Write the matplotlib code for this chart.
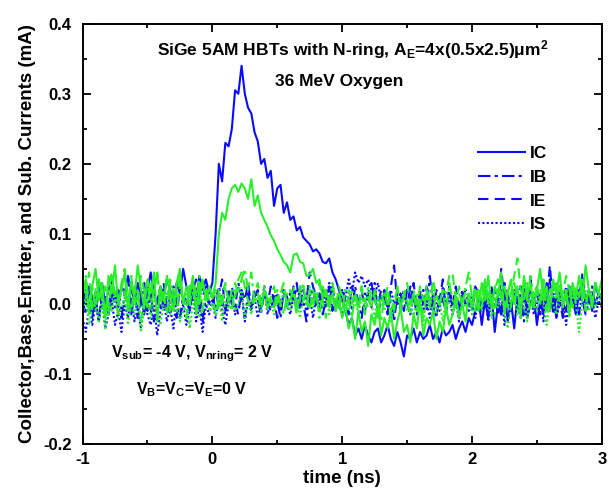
import numpy as np
import matplotlib
matplotlib.use("Agg")
import matplotlib.pyplot as plt

plt.rcParams['font.family'] = ['Liberation Sans', 'DejaVu Sans']
plt.rcParams['font.weight'] = 'bold'
plt.rcParams['axes.unicode_minus'] = False
plt.rcParams['mathtext.fontset'] = 'custom'
plt.rcParams['mathtext.rm'] = 'Liberation Sans:bold'
plt.rcParams['mathtext.bf'] = 'Liberation Sans:bold'
plt.rcParams['mathtext.it'] = 'Liberation Sans:bold'
plt.rcParams['mathtext.default'] = 'bf'

# sample times (ns), 0.025 ns step
time_ns = np.linspace(-1.0, 3.0, 161)

# currents, in uA (converted to mA below)
ic_blue = [20, 5, 25, 10, -10, 15, 30, 0, 20, 35, 10, -5, 25, 15, 40, 20, 5, 30, 10, -15,
           20, 45, 15, 0, 25, 10, 35, 20, -5, 30, 15, 50, 25, 10, 30, 5, 40, 20, 35, 15,
           30, 100, 200, 175, 230, 225, 250, 305, 300, 340, 300, 280, 272, 245, 232, 200, 207, 180, 190, 140,
           165, 170, 130, 145, 120, 125, 105, 110, 95, 90, 85, 75, 78, 72, 60, 58, 65, 45, 35, 20,
           5, -10, -30, -20, -45, -35, -50, -30, -45, -55, -40, -35, -55, -45, -30, -50, -60, -40, -55, -75,
           -45, -50, -35, -55, -40, -50, -45, -30, -50, -40, -55, -35, -45, -40, -30, -50, -35, -25, -40, -20,
           -30, -10, 10, -30, 5, -20, 15, -40, 0, -15, 20, -25, 5, -35, 10, -10, 25, -20, 0, 15,
           -30, 5, -15, 30, -5, 10, -20, 20, 0, -10, 25, 5, -15, 15, 35, 0, 20, -10, 30, 10,
           15]
ib_blue = [5, -15, 20, -5, 10, -25, 15, 0, -10, 25, -5, 10, -20, 15, 5, -15, 20, -10, 0, 30,
           -10, 15, -25, 5, 20, -5, 10, -15, 25, 0, -20, 10, 5, -10, 20, -5, 15, -25, 10, 0,
           15, -10, 25, 5, -15, 20, 0, -5, 30, 10, -20, 15, -5, 20, 5, -15, 25, 0, -10, 15,
           5, -20, 20, 10, -5, 25, -10, 15, 0, -25, 10, 20, -5, 15, -15, 5, 25, -10, 10, 0,
           -15, 20, 5, -10, 25, 0, -20, 15, 10, -5, 30, -15, 5, 20, -10, 10, -25, 15, 0, 20,
           -5, 25, 10, -15, 5, 20, -10, 40, 0, -20, 15, 5, -10, 25, -5, 10, -15, 20, 0, 15,
           -10, 20, 5, -20, 15, 0, 25, -5, 10, -15, 30, 5, -10, 20, 0, 15, -25, 10, 5, -5,
           20, -10, 15, 0, 35, -15, 10, 5, -20, 25, 0, 15, -10, 20, 5, -15, 10, 25, -5, 15,
           5]
ie_blue = [-10, 20, 5, -20, 15, 30, -5, 10, -15, 20, 0, 25, -10, 5, 35, -5, 15, -20, 10, 25,
           0, -15, 20, 10, -5, 30, -10, 15, 5, -20, 25, 0, 10, -10, 20, 35, -5, 10, 25, 0,
           -5, 20, 10, 35, -10, 15, 25, 0, -15, 20, 5, 30, -5, 10, 20, -10, 15, 0, 25, 5,
           -20, 10, 20, -5, 15, 0, 30, -10, 20, 5, 45, 25, 10, -5, 20, 15, 0, 30, -10, 10,
           20, 5, -15, 25, 10, 0, 20, -10, 15, 30, 5, -5, 20, 10, -15, 25, 55, 0, 15, -10,
           20, 5, 30, -5, 15, 0, 25, 10, -15, 20, 5, 35, -10, 15, 0, 25, -5, 10, 20, 0,
           -10, 25, 15, 0, 30, -5, 10, 20, -15, 50, 5, 15, -10, 20, 0, 25, 10, -5, 35, 10,
           0, -15, 20, 5, 55, -5, 15, 10, -10, 25, 0, 20, 5, -15, 45, 10, -5, 20, 0, 15,
           5]
is_blue = [-20, -40, -5, -30, 0, -25, 10, -35, -15, 5, -30, -10, -40, 0, -20, 10, -25, -5, -35, 5,
           -15, -30, 0, -45, -10, 5, -25, -5, -35, 10, -20, 0, -30, -10, 15, -25, -5, -40, 0, -15,
           5, -20, 10, -10, -30, 0, 15, -15, -5, 20, -25, 5, -10, 10, -20, 0, 25, -15, 5, -5,
           15, -10, 20, 0, -15, 10, -5, 25, 5, -10, 15, -20, 10, 0, 20, -5, 30, 10, 5, -5,
           20, 10, 35, 15, 45, 30, 40, 25, 35, 20, 10, 30, 5, 15, -5, 20, 0, 10, -10, 15,
           0, -15, 10, -5, 20, -10, 5, -20, 15, 0, -10, 25, -5, 10, -15, 5, -25, 15, 0, -10,
           10, -20, 5, -5, 15, -25, 0, 10, -15, 20, -30, 5, -10, 15, 0, -20, 10, -5, 20, -15,
           0, 15, -25, 5, -10, 20, -20, 0, 10, -30, 15, -5, 5, -15, 20, -10, 0, 10, -20, 5,
           -5]

ic_green = [10, 35, -15, 25, 50, 5, 30, -20, 40, 15, 55, 0, 20, 45, -10, 30, 10, 55, 20, -5,
            35, 15, 45, -25, 25, 5, 40, 15, -10, 30, 50, 0, 25, 10, 40, -15, 20, 35, 5, 25,
            10, 30, 100, 130, 120, 150, 165, 170, 160, 172, 165, 150, 178, 140, 155, 130, 120, 110, 98, 90,
            78, 70, 60, 55, 45, 70, 72, 60, 58, 40, 42, 50, 30, 35, 10, 20, 0, 15, -10, 5,
            -20, -5, -35, -20, -50, -10, -40, -25, -60, -15, -30, 0, -45, -20, -35, -10, -50, -25, -5, -40,
            -30, -55, -15, -35, 5, -45, -20, -30, -10, -50, -25, -40, -5, -30, -15, 10, -20, 0, -25, 15,
            -5, 20, -10, 30, 5, 40, -5, 25, 10, 45, -15, 15, 35, 0, 25, -20, 40, 10, 30, -5,
            20, 50, 5, 25, -10, 35, 15, 45, 0, 20, -15, 30, 10, 40, 5, 55, 20, -5, 30, 15,
            35]
ib_green = [15, 40, 0, 25, -10, 35, 10, -20, 20, 45, 5, -15, 30, 15, -5, 40, 0, 20, -25, 10,
            30, -5, 20, 45, 0, 15, -15, 35, 10, -10, 25, 5, -20, 30, 15, 0, 40, -10, 20, 5,
            10, -15, 20, 0, 25, 5, -10, 30, 15, 35, 50, 20, 45, 0, 15, -10, 25, 5, 10, -5,
            20, 0, -15, 15, 5, 25, -10, 10, 30, -5, 20, 0, 15, -20, 25, 10, -5, 30, 5, 15,
            -10, 20, 5, -20, 15, 0, 25, -15, 10, -5, 20, 5, -25, 15, 0, 10, -10, 25, -5, 15,
            5, -15, 20, 0, 10, -20, 25, 5, -10, 15, 0, 20, -15, 30, 5, -5, 15, 0, 25, 45,
            10, -10, 20, 5, 35, 0, 15, -15, 25, 10, 0, 20, -5, 30, 15, 0, 25, 5, 40, 10,
            20, 0, 30, -10, 15, 25, 5, 35, -5, 20, 10, 30, 0, 15, 25, -10, 20, 5, 30, 15,
            10]
ie_green = [30, 10, 45, -5, 20, 35, 5, 25, -15, 40, 15, 0, 30, 50, 10, -10, 25, 5, 40, 20,
            -5, 30, 15, 45, 0, 20, 35, -10, 25, 10, 40, 5, 20, -5, 35, 15, 0, 30, 10, 25,
            5, 20, -10, 15, 30, 0, 20, 10, 35, 45, 25, 5, -5, 15, 30, 0, 20, -10, 10, 25,
            0, 15, 30, -5, 20, 10, -15, 25, 5, 15, -10, 20, 0, 30, 5, -20, 15, 10, -5, 25,
            10, -15, 20, 0, 15, -10, 25, 5, -5, 20, 10, -20, 15, 0, 25, -10, 5, 20, -5, 10,
            30, 0, 15, -10, 25, 5, 20, -5, 35, 10, 0, 20, 15, 40, 45, 5, 25, -5, 20, 10,
            0, 25, 10, -5, 30, 15, 0, 20, 35, 10, 25, -5, 15, 40, 65, 20, 5, 30, -10, 15,
            25, 5, 35, -5, 20, 10, 30, 0, 15, 40, 20, -5, 25, 10, 35, 0, 20, 5, 30, 15,
            10]
is_green = [-15, 10, -30, -5, 15, -25, 0, -35, 5, -10, 20, -20, -5, 10, -30, 0, -15, 15, -40, -5,
            5, -20, 10, -10, -30, 0, 15, -15, -5, 20, -25, -10, 5, -35, 0, 10, -20, -5, 15, -10,
            0, -15, 10, -25, 5, -5, 15, -10, 0, 20, -20, 5, -15, 10, 0, -10, 20, -5, 5, -15,
            10, -5, 20, 0, -10, 15, 5, -20, 10, 0, 25, -5, 15, -10, 5, 20, -15, 10, 0, -5,
            15, 0, -10, 20, 5, -15, 10, -5, 25, 0, -20, 10, 5, -10, 15, -25, 0, 10, -5, 20,
            -10, 5, -20, 15, 0, -30, 10, -5, 20, -15, 5, -25, 10, 0, -10, 15, -20, 5, -5, 10,
            -15, 20, 0, -10, 25, 5, -20, 10, -5, 15, -10, -35, 0, 20, -15, 10, 5, -25, 15, 0,
            -10, 20, 5, -30, 10, 0, -15, 25, -5, 10, -20, 15, 0, -40, 5, 20, -10, 10, -5, 15,
            0]

blue = '#0a0aff'
green = '#2aee2a'
styles = {'IC': '-', 'IB': (0, (6, 2, 1.5, 2)), 'IE': (0, (5, 3)), 'IS': (0, (1, 1.1))}

fig = plt.figure(figsize=(6.16, 4.95), dpi=100)
ax = fig.add_axes([0.134, 0.103, 0.843, 0.849])

blue_sets = [('IS', is_blue), ('IE', ie_blue), ('IB', ib_blue), ('IC', ic_blue)]
green_sets = [('IS', is_green), ('IE', ie_green), ('IB', ib_green), ('IC', ic_green)]

handles = {}
for name, vals in blue_sets:
    ln, = ax.plot(time_ns, np.array(vals) / 1000.0, color=blue, lw=1.5, ls=styles[name])
    handles[name] = ln
for name, vals in green_sets:
    ax.plot(time_ns, np.array(vals) / 1000.0, color=green, lw=1.5, ls=styles[name])

ax.set_xlim(-1, 3)
ax.set_ylim(-0.2, 0.4)
ax.set_xticks([-1, 0, 1, 2, 3])
ax.set_xticks(np.arange(-0.5, 3, 1.0), minor=True)
ax.set_yticks(np.arange(-0.2, 0.41, 0.1))
ax.set_yticks(np.arange(-0.15, 0.4, 0.1), minor=True)
ax.set_yticklabels(['%.1f' % v for v in np.arange(-0.2, 0.41, 0.1)])
ax.tick_params(which='both', direction='in', top=True, right=True, labelsize=12, width=1.3)
ax.tick_params(which='major', length=6)
ax.tick_params(which='minor', length=3)
ax.tick_params(axis='y', pad=8)
ax.tick_params(axis='x', pad=6)
for sp in ax.spines.values():
    sp.set_linewidth(1.4)

ax.set_xlabel('time (ns)', fontsize=13.5, fontweight='bold', labelpad=2)
ax.set_ylabel('Collector,Base,Emitter, and Sub. Currents (mA)', fontsize=13.5,
              fontweight='bold', labelpad=5)

ax.text(0.52, 0.938, 'SiGe 5AM HBTs with N-ring, A$_E$=4x(0.5x2.5)μm$^2$',
        transform=ax.transAxes, ha='center', va='center', fontsize=12.5, fontweight='bold')
ax.text(0.495, 0.862, '36 MeV Oxygen', transform=ax.transAxes, ha='center', va='center',
        fontsize=12.5, fontweight='bold')
ax.text(0.21, 0.216, 'V$_{sub}$= -4 V, V$_{nring}$= 2 V', transform=ax.transAxes,
        ha='center', va='center', fontsize=11.5, fontweight='bold')
ax.text(0.21, 0.13, 'V$_B$=V$_C$=V$_E$=0 V', transform=ax.transAxes,
        ha='center', va='center', fontsize=11.5, fontweight='bold')

order = ['IC', 'IB', 'IE', 'IS']
leg = ax.legend([handles[k] for k in order], order, loc='upper left',
                bbox_to_anchor=(0.732, 0.747), frameon=False, fontsize=12.5,
                handlelength=2.7, handletextpad=0.3, labelspacing=0.5)
for t in leg.get_texts():
    t.set_fontweight('bold')

fig.savefig('out.png', dpi=100)
